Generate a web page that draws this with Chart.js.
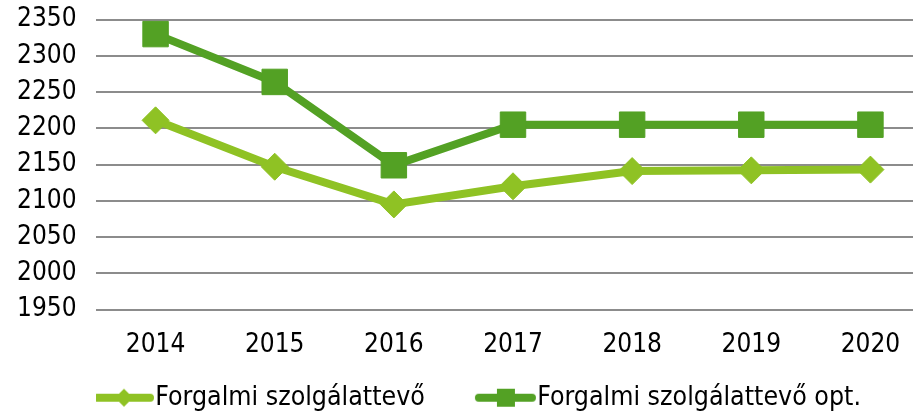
<!DOCTYPE html>
<html>
<head>
<meta charset="utf-8">
<script src="https://cdn.jsdelivr.net/npm/chart.js@4.4.1/dist/chart.umd.min.js"></script>
<style>
    html, body { margin: 0; padding: 0; background: #ffffff; overflow: hidden; }
    /* a rács a jobb szélen túlnyúlik, ezért szélesebb a vászon */
    #wrap { width: 930px; height: 415px; position: relative; }
</style>
</head>
<body>
<div id="wrap"><canvas id="chart"></canvas></div>
<script>
// adatok
const years = ['2014', '2015', '2016', '2017', '2018', '2019', '2020'];
const forgalmi = [2211, 2147, 2095, 2120, 2141, 2142, 2143];
const forgalmiOpt = [2330, 2264, 2149, 2205, 2205, 2205, 2205];
const seriesNames = ['Forgalmi szolgálattevő', 'Forgalmi szolgálattevő opt.'];

const lightGreen = '#8fc224';
const darkGreen = '#53a124';
const fontFamily = '"DejaVu Sans Condensed", "DejaVu Sans", sans-serif';
const fontSize = 26;

/**
 * jelmagyarázat ikon: vonal + jelölő
 * (a kép a doboz közepére kerül, a vonal a doboz elé is kilóg)
 */
function legendIcon(color, shape) {
    const c = document.createElement('canvas');
    c.width = 70;
    c.height = 24;
    const ctx = c.getContext('2d');
    ctx.strokeStyle = color;
    ctx.fillStyle = color;
    ctx.lineWidth = 8;
    ctx.lineCap = 'round';
    ctx.beginPath();
    ctx.moveTo(12, 12);
    ctx.lineTo(65, 12);
    ctx.stroke();
    ctx.beginPath();
    if (shape === 'diamond') {
        ctx.moveTo(39, 3);
        ctx.lineTo(48, 12);
        ctx.lineTo(39, 21);
        ctx.lineTo(30, 12);
        ctx.closePath();
    } else {
        ctx.rect(30, 3, 18, 18);
    }
    ctx.fill();
    return c;
}

const icons = [legendIcon(lightGreen, 'diamond'), legendIcon(darkGreen, 'square')];

new Chart(document.getElementById('chart'), {
    type: 'line',
    data: {
        labels: years,
        datasets: [
            {
                label: seriesNames[0],
                data: forgalmi,
                borderColor: lightGreen,
                backgroundColor: lightGreen,
                borderWidth: 8,
                pointStyle: 'rectRot',
                pointRadius: 13.5,
                pointBorderWidth: 1,
                tension: 0
            },
            {
                label: seriesNames[1],
                data: forgalmiOpt,
                borderColor: darkGreen,
                backgroundColor: darkGreen,
                borderWidth: 8,
                pointStyle: 'rect',
                pointRadius: 18,
                pointBorderWidth: 1,
                tension: 0
            }
        ]
    },
    options: {
        responsive: true,
        maintainAspectRatio: false,
        animation: false,
        layout: { autoPadding: false, padding: { left: 17, right: 0, top: 0, bottom: -6 } },
        plugins: {
            tooltip: { enabled: false },
            legend: {
                position: 'bottom',
                align: 'start',
                fullSize: false,
                labels: {
                    usePointStyle: true,
                    pointStyleWidth: 44,
                    padding: 2,
                    color: '#000000',
                    font: { family: fontFamily, size: 26.5 },
                    generateLabels(chart) {
                        // az első felirat utáni szóközök adják a két elem közti hézagot
                        return chart.data.datasets.map((ds, i) => ({
                            text: i === 0 ? ds.label + '       ' : ds.label,
                            pointStyle: icons[i],
                            fillStyle: ds.borderColor,
                            strokeStyle: ds.borderColor,
                            lineWidth: 0,
                            fontColor: '#000000',
                            datasetIndex: i,
                            hidden: false
                        }));
                    }
                }
            }
        },
        scales: {
            x: {
                offset: true,
                grid: { display: false, offset: true },
                border: { display: false },
                afterFit(scale) { scale.height = 73; },
                ticks: {
                    color: '#000000',
                    padding: 12,
                    maxRotation: 0,
                    font: { family: fontFamily, size: fontSize }
                }
            },
            y: {
                min: 1950,
                max: 2350,
                afterFit(scale) { scale.width = 79; },
                grid: { color: '#8c8c8c', lineWidth: 2, drawTicks: false },
                border: { display: false },
                ticks: {
                    stepSize: 50,
                    color: '#000000',
                    padding: 4,
                    crossAlign: 'far',
                    font: { family: fontFamily, size: fontSize },
                    callback: (v) => String(v)
                }
            }
        }
    }
});
</script>
</body>
</html>
